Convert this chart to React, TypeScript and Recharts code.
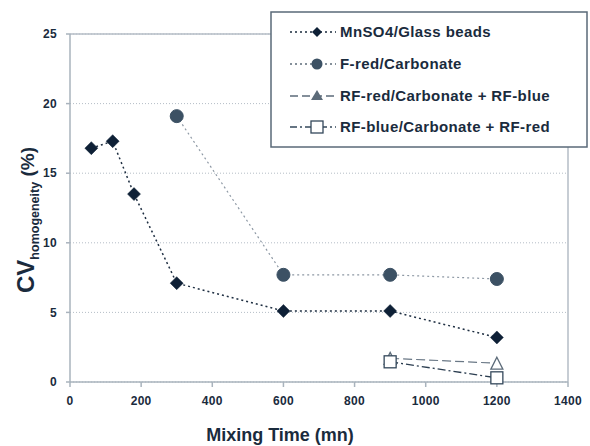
import React from 'react';
import { LineChart, Line, XAxis, YAxis, CartesianGrid, ReferenceLine } from 'recharts';

const FONT = '"Liberation Sans", Arial, sans-serif';
const TEXT = '#1a2b3d';

const xTicks = [0, 200, 400, 600, 800, 1000, 1200, 1400];
const yTicks = [0, 5, 10, 15, 20, 25];

const mnso4Times = [60, 120, 180, 300, 600, 900, 1200];
const mnso4Values = [16.8, 17.3, 13.5, 7.1, 5.1, 5.1, 3.2];

const fredTimes = [300, 600, 900, 1200];
const fredValues = [19.1, 7.7, 7.7, 7.4];

const rfRedTimes = [900, 1200];
const rfRedValues = [1.7, 1.35];

const rfBlueTimes = [900, 1200];
const rfBlueValues = [1.45, 0.3];

const seriesNames = [
  'MnSO4/Glass beads',
  'F-red/Carbonate',
  'RF-red/Carbonate + RF-blue',
  'RF-blue/Carbonate + RF-red',
];

const toRows = (xs: number[], ys: number[]) => xs.map((x, i) => ({ x, y: ys[i] }));

const mnso4Data = toRows(mnso4Times, mnso4Values);
const fredData = toRows(fredTimes, fredValues);
const rfRedData = toRows(rfRedTimes, rfRedValues);
const rfBlueData = toRows(rfBlueTimes, rfBlueValues);

const DIAMOND = '#0e2036';
const CIRCLE = '#3c5164';
const TRI = '#5c6b79';
const SQ = '#34485b';

const Diamond = (p: any) => {
  const { cx, cy, index } = p;
  if (cx == null || cy == null) return <g key={index} />;
  const r = 6.5;
  return (
    <path
      key={index}
      d={`M${cx},${cy - r}L${cx + r},${cy}L${cx},${cy + r}L${cx - r},${cy}Z`}
      fill={DIAMOND}
      stroke={DIAMOND}
      strokeWidth={0.5}
    />
  );
};

const Circle = (p: any) => {
  const { cx, cy, index } = p;
  if (cx == null || cy == null) return <g key={index} />;
  return <circle key={index} cx={cx} cy={cy} r={6.5} fill={CIRCLE} stroke={CIRCLE} />;
};

const Triangle = (p: any) => {
  const { cx, cy, index } = p;
  if (cx == null || cy == null) return <g key={index} />;
  const s = 6;
  return (
    <path
      key={index}
      d={`M${cx},${cy - s}L${cx + s},${cy + s}L${cx - s},${cy + s}Z`}
      fill="#ffffff"
      stroke={TRI}
      strokeWidth={1.3}
    />
  );
};

const Square = (p: any) => {
  const { cx, cy, index } = p;
  if (cx == null || cy == null) return <g key={index} />;
  const s = 6;
  return (
    <rect
      key={index}
      x={cx - s}
      y={cy - s}
      width={2 * s}
      height={2 * s}
      fill="#ffffff"
      stroke={SQ}
      strokeWidth={1.3}
    />
  );
};

const YLabel = () => (
  <text
    transform="translate(34,220) rotate(-90)"
    textAnchor="middle"
    fill={TEXT}
    fontFamily={FONT}
    fontWeight="bold"
  >
    <tspan fontSize={24}>CV</tspan>
    <tspan fontSize={12.5} dy={5}>homogeneity</tspan>
    <tspan fontSize={19} dy={-5}> (%)</tspan>
  </text>
);

const XLabel = () => (
  <text x={280} y={441} textAnchor="middle" fill={TEXT} fontFamily={FONT} fontWeight="bold" fontSize={18}>
    Mixing Time (mn)
  </text>
);

const LegendBox = () => {
  const rowY = [21, 53, 85, 116];
  return (
    <svg width={318} height={137} style={{ position: 'absolute', left: 270, top: 11 }}>
      <rect x={1} y={1} width={316} height={135} fill="#ffffff" stroke="#5a6978" strokeWidth={1.5} />
      {/* row 1 */}
      <line x1={20} y1={rowY[0]} x2={66} y2={rowY[0]} stroke="#1a2a3c" strokeWidth={1.5} strokeDasharray="2 3" />
      <path d={`M47,${rowY[0] - 5}L52,${rowY[0]}L47,${rowY[0] + 5}L42,${rowY[0]}Z`} fill={DIAMOND} />
      {/* row 2 */}
      <line x1={20} y1={rowY[1]} x2={66} y2={rowY[1]} stroke="#5e6c7a" strokeWidth={1.5} strokeDasharray="2 3" />
      <circle cx={47} cy={rowY[1]} r={5.5} fill={CIRCLE} />
      {/* row 3 */}
      <line x1={20} y1={rowY[2]} x2={66} y2={rowY[2]} stroke={TRI} strokeWidth={1.5} strokeDasharray="8 4" />
      <path d={`M47,${rowY[2] - 6}L53,${rowY[2] + 4}L41,${rowY[2] + 4}Z`} fill={TRI} />
      {/* row 4 */}
      <line x1={20} y1={rowY[3]} x2={66} y2={rowY[3]} stroke={SQ} strokeWidth={1.5} strokeDasharray="7 3 2 3" />
      <rect x={41} y={rowY[3] - 6} width={12} height={12} fill="#ffffff" stroke={SQ} strokeWidth={1.3} />
      {seriesNames.map((n, i) => (
        <text
          key={n}
          x={70}
          y={rowY[i] + 5}
          fill={TEXT}
          fontFamily={FONT}
          fontWeight="bold"
          fontSize={15}
          letterSpacing={0.4}
        >
          {n}
        </text>
      ))}
    </svg>
  );
};

export default function App() {
  return (
    <div style={{ position: 'absolute', left: 0, top: 0, width: 590, height: 446, background: '#fff' }}>
      <LineChart width={590} height={446} margin={{ top: 34, right: 22, left: 0, bottom: 0 }}>
        <CartesianGrid vertical={false} stroke="#b4bdc6" strokeDasharray="1 2" />
        <XAxis
          type="number"
          dataKey="x"
          domain={[0, 1400]}
          ticks={xTicks}
          allowDuplicatedCategory={false}
          height={64}
          stroke="#a9b3bd"
          strokeWidth={1.5}
          tickSize={5}
          tickMargin={9}
          tick={{ fill: TEXT, fontSize: 12, fontWeight: 'bold', fontFamily: FONT, letterSpacing: 0.3 }}
          label={<XLabel />}
        />
        <YAxis
          type="number"
          dataKey="y"
          domain={[0, 25]}
          ticks={yTicks}
          width={70}
          stroke="#a9b3bd"
          strokeWidth={1.5}
          tickSize={4}
          tickMargin={9}
          tick={{ fill: TEXT, fontSize: 12, fontWeight: 'bold', fontFamily: FONT, letterSpacing: 0.3 }}
          label={<YLabel />}
        />
        <ReferenceLine y={25} stroke="#b4bdc6" strokeWidth={1.5} />
        <ReferenceLine x={1400} stroke="#b4bdc6" strokeWidth={1.5} />
        <Line
          data={fredData}
          dataKey="y"
          type="linear"
          stroke="#8d98a4"
          strokeWidth={1.2}
          strokeDasharray="2 3"
          dot={Circle}
          isAnimationActive={false}
        />
        <Line
          data={mnso4Data}
          dataKey="y"
          type="linear"
          stroke="#1f2f42"
          strokeWidth={1.5}
          strokeDasharray="2 3"
          dot={Diamond}
          isAnimationActive={false}
        />
        <Line
          data={rfRedData}
          dataKey="y"
          type="linear"
          stroke="#6a7886"
          strokeWidth={1.2}
          strokeDasharray="9 4"
          dot={Triangle}
          isAnimationActive={false}
        />
        <Line
          data={rfBlueData}
          dataKey="y"
          type="linear"
          stroke="#2c3e51"
          strokeWidth={1.3}
          strokeDasharray="8 3 2 3"
          dot={Square}
          isAnimationActive={false}
        />
      </LineChart>
      <LegendBox />
    </div>
  );
}
